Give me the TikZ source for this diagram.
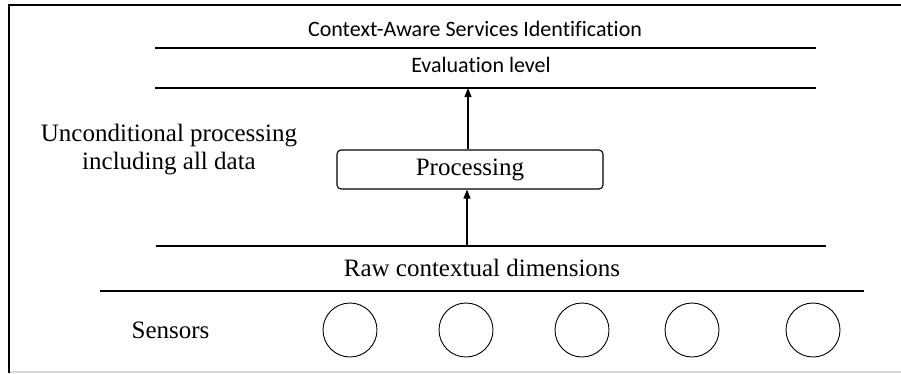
\documentclass[tikz,border=0pt]{standalone}
\usepackage{fontspec}
\setmainfont{Liberation Serif}
\newfontfamily\calfont[Ligatures=NoCommon]{Carlito}
\usepackage{tikz}
\usetikzlibrary{arrows.meta,
                calc,
                positioning}

\tikzset{level/.style={line width=1.6pt},
         uparrow/.style={line width=1.3pt,-{Triangle[length=9pt,width=7pt]}},
         sensor/.style={draw,circle,line width=0.9pt,minimum size=54pt,inner sep=0pt},
         serifbig/.style={font=\fontsize{25}{28}\selectfont},
         sansbig/.style={font=\calfont\fontsize{22}{26}\selectfont}}

\begin{document}
\begin{tikzpicture}[x=1pt,y=-1pt]
\useasboundingbox (0,0) rectangle (901,373);
% frame
\draw[line width=1.8pt] (9,373) -- (9,5) -- (901,5);
\draw[black!15,line width=1.2pt] (10,372) -- (901,372);

% levels
\draw[level] (155,48) -- (816,48);
\draw[level] (155,88) -- (816,88);
\draw[level] (156,246) -- (826,246);
\draw[level] (100,291) -- (864,291);

\node[sansbig,anchor=base,inner sep=0pt] (cas) at (475,36) {Context-Aware Services Identification};
\node[sansbig,anchor=base,inner sep=0pt] (eval) at (481,72) {Evaluation level};

\node[serifbig,align=center,inner sep=0pt] (uncond) at (169,150) {Unconditional processing\\including all data};

\node[serifbig,draw,rounded corners=4pt,line width=1.1pt,minimum width=266pt,minimum height=39pt,inner sep=0pt] (proc) at (470,169.5) {Processing};

\node[serifbig,anchor=base,inner sep=0pt] (raw) at (482,276) {Raw contextual dimensions};
\node[serifbig,anchor=base,inner sep=0pt] (sens) at (170.5,338) {Sensors};

\foreach \n/\x in {1/350,2/466,3/582,4/692,5/813}
  \node[sensor] (s\n) at (\x,330) {};

% arrows
\coordinate (rawtop) at (467,246);
\coordinate (evalbot) at (468,88);
\draw[uparrow] (rawtop) -- (rawtop |- proc.south);
\draw[uparrow] (evalbot |- proc.north) -- (evalbot);
\end{tikzpicture}
\end{document}
